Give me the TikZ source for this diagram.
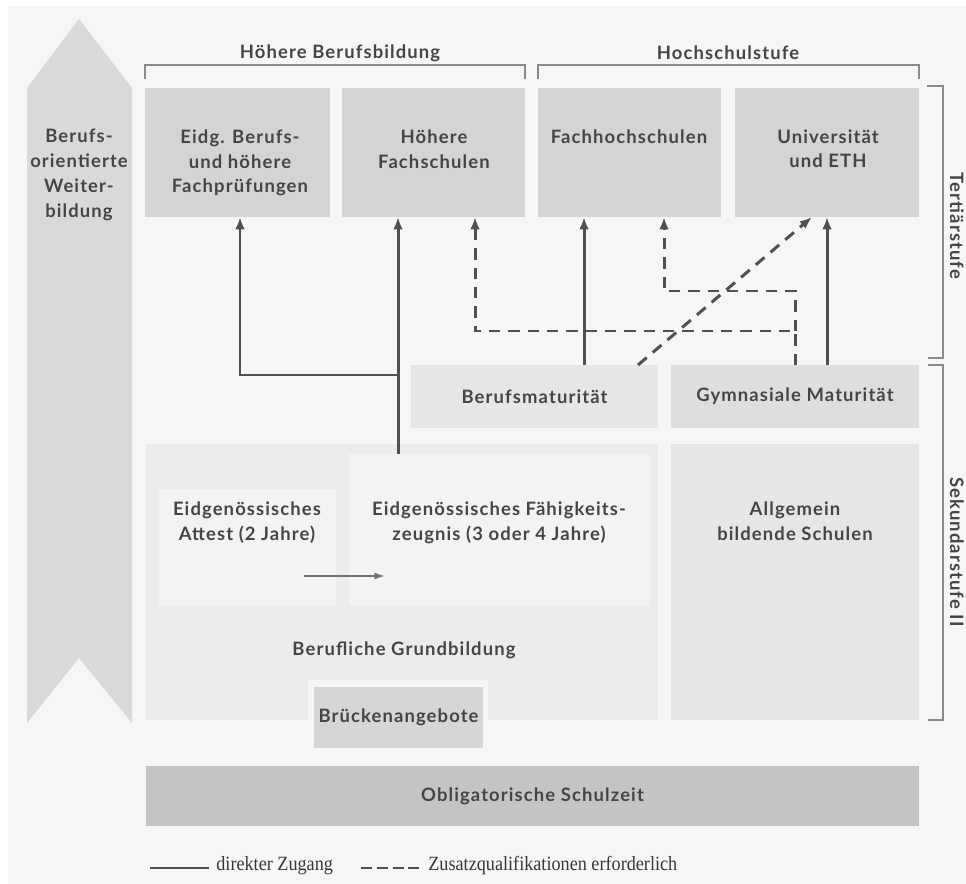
\documentclass[tikz,border=0pt]{standalone}
\usepackage{fontspec}
\setmainfont{Lato}[LetterSpace=6]
\newfontfamily\legendfont{Liberation Serif}[FakeStretch=0.9]
\usepackage{xcolor}
\usetikzlibrary{calc}
\usetikzlibrary{fit}
\usetikzlibrary{arrows.meta}
\tikzset{>={Latex[length=7pt,width=5.4pt]}}

\definecolor{hintergrund}{HTML}{F6F6F6}
\definecolor{pfeilgrau}{HTML}{D9D9D9}
\definecolor{tertiaer}{HTML}{D4D4D4}
\definecolor{berufsmat}{HTML}{E6E6E6}
\definecolor{gymmat}{HTML}{DEDEDE}
\definecolor{grundbild}{HTML}{ECECEC}
\definecolor{abschluss}{HTML}{F3F3F3}
\definecolor{allgemein}{HTML}{E6E6E6}
\definecolor{bruecke}{HTML}{D6D6D6}
\definecolor{obligat}{HTML}{C4C4C4}
\definecolor{textgrau}{HTML}{454545}
\definecolor{liniengrau}{HTML}{505050}
\definecolor{klammergrau}{HTML}{8A8A8A}

\tikzset{
	feld/.style={inner sep=0pt, outer sep=0pt},
	schrift/.style={font=\bfseries\fontsize{10.5}{14.2}\selectfont, text=textgrau, align=center, inner sep=0pt},
	direkt/.style={line width=1.7pt, draw=liniengrau},
	zusatz/.style={line width=1.7pt, draw=liniengrau, dash pattern=on 6.5pt off 4.5pt},
	klammer/.style={line width=0.8pt, draw=klammergrau},
	legende/.style={font=\legendfont\fontsize{11.5}{13}\selectfont, text=textgrau!80!black, inner sep=0pt}
}

\begin{document}
\begin{tikzpicture}[x=0.02cm, y=-0.02cm]
	\useasboundingbox (0,0) rectangle (966,884);
	\fill[white] (0,0) rectangle (966,884);
	\fill[hintergrund] (8,6) rectangle (966,884);

	% Weiterbildung
	\filldraw[fill=pfeilgrau, draw=none]
	(27,88) -- (79,19) -- (132,88) -- (132,723) -- (79,658) -- (27,723) -- cycle;
	\node[schrift, anchor=north] (bow) at (79,129) {Berufs-\\orientierte\\Weiter-\\bildung};

	% Tertiaerstufe
	\node[feld, fill=tertiaer, fit={(145,88) (330,217)}] (efp) {};
	\node[feld, fill=tertiaer, fit={(342,88) (525,217)}] (hfs) {};
	\node[feld, fill=tertiaer, fit={(538,88) (721,217)}] (fh) {};
	\node[feld, fill=tertiaer, fit={(735,88) (919,217)}] (uni) {};
	\node[schrift, anchor=north] (efpT) at (240,129) {Eidg. Berufs-\\und h\"ohere\\Fachpr\"ufungen};
	\node[schrift, anchor=north] (hfsT) at (434,129) {H\"ohere\\Fachschulen};
	\node[schrift, anchor=north] (fhT) at (629,129) {Fachhochschulen};
	\node[schrift, anchor=north] (uniT) at (828,129) {Universit\"at\\und ETH};

	% Klammern
	\draw[klammer] (145,79) -- (145,65) -- (525,65) -- (525,79);
	\draw[klammer] (538,79) -- (538,65) -- (919,65) -- (919,79);
	\node[schrift] (hbb) at (340,53) {H\"ohere Berufsbildung};
	\node[schrift] (hsst) at (728,53) {Hochschulstufe};
	\draw[klammer] (927,86) -- (943,86) -- (943,358) -- (928,358);
	\draw[klammer] (928,365) -- (943,365) -- (943,720) -- (928,720);
	\node[schrift, rotate=-90] (tert) at (957,226) {Terti\"arstufe};
	\node[schrift, rotate=-90] (sek) at (957,552) {Sekundarstufe II};

	% Sekundarstufe II
	\node[feld, fill=berufsmat, fit={(411,365) (658,428)}] (bm) {};
	\node[feld, fill=gymmat, fit={(671,365) (919,428)}] (gm) {};
	\node[schrift] (bmT) at (bm.center) {Berufsmaturit\"at};
	\node[schrift] (gmT) at (gm.center) {Gymnasiale Maturit\"at};

	\node[feld, fill=grundbild, fit={(146,444) (658,720)}] (gb) {};
	\node[feld, fill=abschluss, fit={(159,489) (336,606)}] (att) {};
	\node[feld, fill=abschluss, fit={(349,454) (650,606)}] (efz) {};
	\node[feld, fill=allgemein, fit={(671,444) (919,720)}] (abs) {};
	\node[schrift, anchor=north] (attT) at (247,501) {Eidgen\"ossisches\\Attest (2 Jahre)};
	\node[schrift, anchor=north] (efzT) at (499,501) {Eidgen\"ossisches F\"ahigkeits-\\zeugnis (3 oder 4 Jahre)};
	\node[schrift, anchor=north] (absT) at (795,501) {Allgemein\\bildende Schulen};
	\node[schrift] (gbT) at (404,650) {Berufliche Grundbildung};

	\fill[hintergrund] (308,680) rectangle (488,720);
	\node[feld, fill=bruecke, fit={(314,687) (483,748)}] (br) {};
	\node[schrift] (brT) at (br.center) {Br\"uckenangebote};

	% Obligatorische Schulzeit
	\node[feld, fill=obligat, fit={(146,766) (919,826)}] (os) {};
	\node[schrift] (osT) at (os.center) {Obligatorische Schulzeit};

	% Zugaenge
	\coordinate[](j1) at (398,375);
	\coordinate[](j2) at (240,375);
	\coordinate[](j3) at (584,375);
	\coordinate[](d1) at (795,331);
	\coordinate[](d2) at (795,291);
	\coordinate[](d3) at (475,331);
	\coordinate[](d4) at (664,291);
	\coordinate[](d5) at (638,365);
	\coordinate[](d6) at (812,217);
	\coordinate[](a1) at (304,576);
	\coordinate[](a2) at (385,576);

	\draw[direkt] (efz.north -| j1) -- (j1);
	\draw[direkt, ->] (j1) -- (hfs.south -| j1);
	\draw[direkt, ->] (j1) -| (efp.south -| j2);
	\draw[direkt, ->] (bm.north -| j3) -- (fh.south -| j3);
	\draw[direkt, ->] (gm.north -| uni.south) -- (uni.south);

	\draw[zusatz, ->] (gm.north -| d1) -- (d1) -- (d3) -- (hfs.south -| d3);
	\draw[zusatz, ->] (d1) -- (d2) -- (d4) -- (fh.south -| d4);
	\draw[zusatz, ->] (bm.north -| d5) -- (uni.south -| d6);

	\draw[line width=0.9pt, draw=liniengrau!80, -{Latex[length=6pt,width=4pt]}] (a1) -- (a2);

	% Legende
	\coordinate[](l1) at (150,868);
	\coordinate[](l2) at (209,868);
	\coordinate[](l3) at (361,868);
	\coordinate[](l4) at (421,868);
	\draw[direkt] (l1) -- (l2);
	\draw[zusatz, dash pattern=on 6.2pt off 2.8pt] (l3) -- (l4);
	\node[legende, anchor=west] (legD) at (216,866) {direkter Zugang};
	\node[legende, anchor=west] (legZ) at (428,866) {Zusatzqualifikationen erforderlich};
\end{tikzpicture}
\end{document}
